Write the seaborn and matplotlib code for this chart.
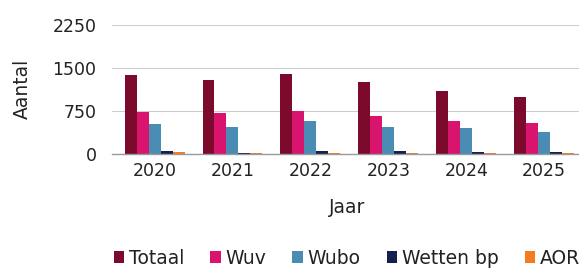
import matplotlib
matplotlib.use("Agg")
import matplotlib.pyplot as plt
import seaborn as sns
import pandas as pd

years = ["2020", "2021", "2022", "2023", "2024", "2025"]
series = ["Totaal", "Wuv", "Wubo", "Wetten bp", "AOR"]
totaal = [1378, 1291, 1395, 1250, 1099, 988]
wuv = [738, 709, 750, 657, 581, 541]
wubo = [523, 471, 581, 465, 448, 378]
wetten_bp = [52, 12, 50, 50, 40, 40]
aor = [25, 10, 12, 12, 12, 12]
colors = ["#7c0a2c", "#d8146f", "#4a8cb3", "#15204f", "#f47b20"]
yticks = [0, 750, 1500, 2250]

values = {"Totaal": totaal, "Wuv": wuv, "Wubo": wubo, "Wetten bp": wetten_bp, "AOR": aor}
rows = []
for s in series:
    for y, v in zip(years, values[s]):
        rows.append({"Jaar": y, "Aantal": v, "Reeks": s})
df = pd.DataFrame(rows)

sns.set_theme(style="white")
plt.rcParams["font.family"] = ["DejaVu Sans"]
text_color = "#222222"

fig = plt.figure(figsize=(5.79, 2.70), dpi=100)
ax = fig.add_axes([0.193, 0.430, 0.814, 0.478])

sns.barplot(data=df, x="Jaar", y="Aantal", hue="Reeks", order=years,
            hue_order=series, palette=colors, width=0.77, ax=ax,
            saturation=1, legend=True, errorbar=None, linewidth=0)

ax.set_ylim(0, 2250)
ax.set_xlim(-0.55, 5.5)
ax.set_yticks(yticks)
ax.set_yticklabels([str(t) for t in yticks])
ax.yaxis.grid(True, color="#cccccc", linewidth=0.8)
ax.set_axisbelow(True)
for sp in ["top", "right", "left"]:
    ax.spines[sp].set_visible(False)
ax.spines["bottom"].set_color("#9a9a9a")
ax.spines["bottom"].set_linewidth(1.0)
ax.tick_params(axis="y", length=0, pad=11, labelsize=12.5, labelcolor=text_color)
ax.tick_params(axis="x", length=0, pad=6, labelsize=12.5, labelcolor=text_color)
ax.set_xlabel("Jaar", fontsize=13.5, color=text_color, labelpad=13)
ax.set_ylabel("Aantal", fontsize=13.5, color=text_color, labelpad=15)

handles, labels = ax.get_legend_handles_labels()
ax.get_legend().remove()
fig.legend(handles, labels, loc="center", bbox_to_anchor=(0.599, 0.044), ncol=5,
           frameon=False, fontsize=13.5, handlelength=0.55, handleheight=0.55,
           handletextpad=0.25, columnspacing=1.4, labelcolor=text_color)

fig.savefig("out.png", dpi=100)
